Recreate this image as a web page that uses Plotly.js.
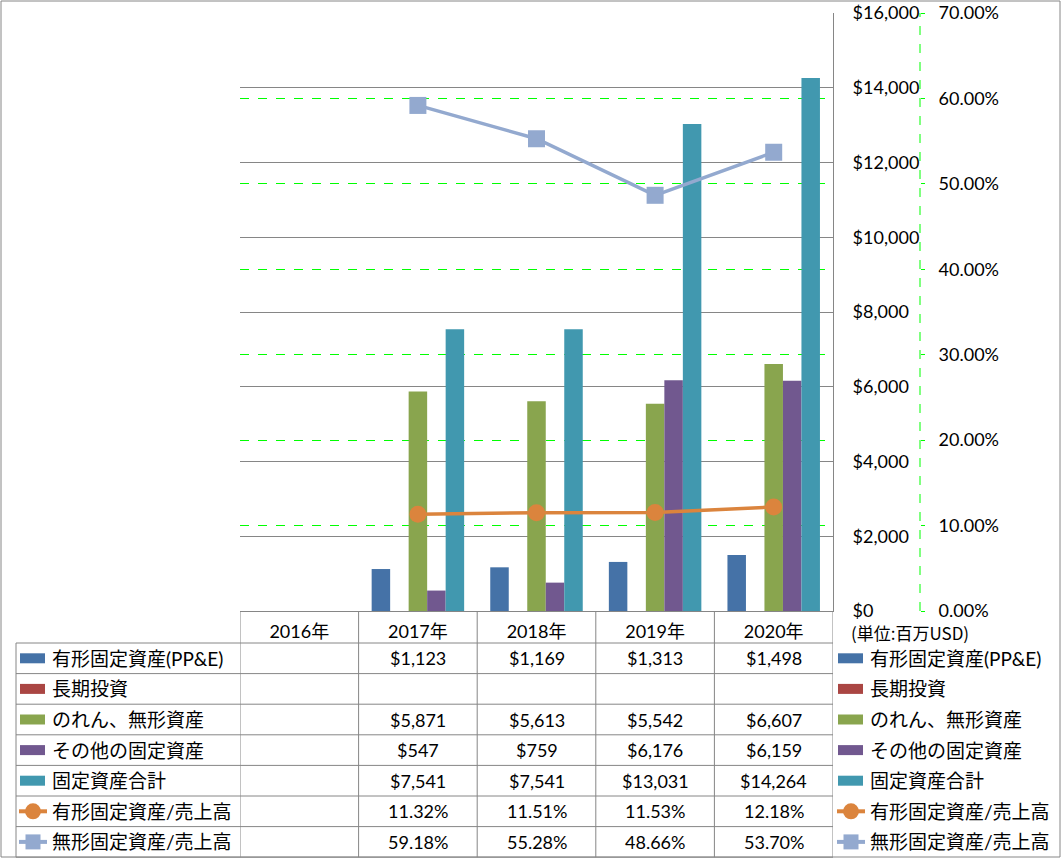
<!DOCTYPE html>
<html><head><meta charset="utf-8">
<script src="https://cdn.plot.ly/plotly-3.0.1.min.js"></script>
<style>html,body{margin:0;padding:0;background:#fff;overflow:hidden;} #chart{width:1061px;height:858px;}</style>
</head><body><div id="chart"></div>
<script>
// ---- data ----
const years = ['2016年', '2017年', '2018年', '2019年', '2020年'];
const ppe = [null, 1123, 1169, 1313, 1498];
const ltInvest = [null, null, null, null, null];
const goodwill = [null, 5871, 5613, 5542, 6607];
const otherFixed = [null, 547, 759, 6176, 6159];
const totalFixed = [null, 7541, 7541, 13031, 14264];
const ppeRatio = [null, 0.1132, 0.1151, 0.1153, 0.1218];
const intangRatio = [null, 0.5918, 0.5528, 0.4866, 0.5370];
const seriesNames = ['有形固定資産(PP&E)', '長期投資', 'のれん、無形資産', 'その他の固定資産', '固定資産合計', '有形固定資産/売上高', '無形固定資産/売上高'];
const colors = ['#4572A7', '#AA4643', '#89A54E', '#71588F', '#4198AF', '#DB843D', '#93A9CF'];
const unitLabel = '(単位:百万USD)';

// ---- geometry ----
const W = 1061, H = 858, L = 240, R = 20, T = 13, B = 247;
const PW = W - L - R, PH = H - T - B;
const X = px => (px - L) / PW;
const Y = py => (H - B - py) / PH;
const plotRight = 833, axis2X = 920;
const rowTop = 643, rowH = 30.6;
const rowC = r => rowTop + rowH * (r + 0.5);

const gridGray = '#868686';
const numFont = {family: 'Lato, "Noto Sans CJK JP", sans-serif', size: 18, color: '#000'};
const jpFont = {family: 'Lato, "Noto Sans CJK JP", sans-serif', size: 19, color: '#000'};

const barSeries = [ppe, ltInvest, goodwill, otherFixed, totalFixed];
const lineSeries = [ppeRatio, intangRatio];

const traces = [];
barSeries.forEach((vals, i) => {
  traces.push({type: 'bar', x: years, y: vals, name: seriesNames[i],
    marker: {color: colors[i]}, showlegend: false, hoverinfo: 'skip'});
});
const lineSymbols = ['circle', 'square'];
const lineSizes = [17, 17];
lineSeries.forEach((vals, j) => {
  const i = 5 + j;
  traces.push({type: 'scatter', mode: 'lines+markers', x: years, y: vals, yaxis: 'y2',
    name: seriesNames[i], line: {color: colors[i], width: 3.5},
    marker: {symbol: lineSymbols[j], size: lineSizes[j], color: colors[i]},
    showlegend: false, hoverinfo: 'skip'});
});

const shapes = [];
const annotations = [];
// outer border
shapes.push({type: 'rect', xref: 'paper', yref: 'paper', x0: X(1), x1: X(1060), y0: Y(857), y1: Y(1),
  line: {color: gridGray, width: 1}, fillcolor: 'rgba(0,0,0,0)', layer: 'below'});
// secondary axis dashed line
shapes.push({type: 'line', xref: 'paper', yref: 'paper', x0: X(axis2X), x1: X(axis2X), y0: 0, y1: 1,
  line: {color: '#00FF00', width: 1, dash: 'dash'}});
// table column lines (category boundaries)
for (let i = 0; i <= years.length; i++) {
  shapes.push({type: 'line', xref: 'x', yref: 'paper', x0: i - 0.5, x1: i - 0.5, y0: Y(H - B), y1: Y(rowTop + rowH * 7),
    line: {color: gridGray, width: 1}});
}
// table row lines
for (let k = 0; k <= 7; k++) {
  const py = rowTop + rowH * k;
  shapes.push({type: 'line', xref: 'paper', yref: 'paper', x0: X(16), x1: X(plotRight), y0: Y(py), y1: Y(py),
    line: {color: gridGray, width: 1}});
}
shapes.push({type: 'line', xref: 'paper', yref: 'paper', x0: X(16), x1: X(16), y0: Y(rowTop), y1: Y(rowTop + rowH * 7),
  line: {color: gridGray, width: 1}});

// legend keys + labels (left table and right side)
function legendKey(r, xl) {
  const c = rowC(r);
  const col = colors[r];
  if (r < 5) {
    shapes.push({type: 'rect', xref: 'paper', yref: 'paper', x0: X(xl), x1: X(xl + 25), y0: Y(c + 5), y1: Y(c - 5),
      line: {width: 0}, fillcolor: col});
  } else {
    shapes.push({type: 'line', xref: 'paper', yref: 'paper', x0: X(xl - 1), x1: X(xl + 27), y0: Y(c), y1: Y(c),
      line: {color: col, width: 4}});
    const cx = xl + 13, s = r === 5 ? 8 : 7.5;
    shapes.push({type: r === 5 ? 'circle' : 'rect', xref: 'paper', yref: 'paper', x0: X(cx - s), x1: X(cx + s), y0: Y(c + s), y1: Y(c - s),
      line: {width: 0}, fillcolor: col});
  }
}
seriesNames.forEach((nm, r) => {
  legendKey(r, 20);
  legendKey(r, 838);
  annotations.push({xref: 'paper', yref: 'paper', x: X(50), y: Y(rowC(r)), text: nm, showarrow: false,
    xanchor: 'left', yanchor: 'middle', font: jpFont});
  annotations.push({xref: 'paper', yref: 'paper', x: X(868), y: Y(rowC(r)), text: nm, showarrow: false,
    xanchor: 'left', yanchor: 'middle', font: jpFont});
});

// table values
const fmtMoney = v => '$' + v.toLocaleString('en-US');
const fmtPct = v => (v * 100).toFixed(2) + '%';
const allSeries = barSeries.concat(lineSeries);
allSeries.forEach((vals, r) => {
  vals.forEach((v, i) => {
    if (v === null) return;
    annotations.push({xref: 'x', yref: 'paper', x: years[i], y: Y(rowC(r)),
      text: r < 5 ? fmtMoney(v) : fmtPct(v), showarrow: false, xanchor: 'center', yanchor: 'middle', font: numFont});
  });
});
annotations.push({xref: 'paper', yref: 'paper', x: X(849), y: Y(632), text: unitLabel, showarrow: false,
  xanchor: 'left', yanchor: 'middle', font: {family: '"Noto Sans CJK JP", sans-serif', size: 17, color: '#000'}});

const layout = {
  width: W, height: H,
  margin: {l: L, r: R, t: T, b: B, pad: 0},
  paper_bgcolor: '#fff', plot_bgcolor: 'rgba(0,0,0,0)',
  barmode: 'group', bargap: 0.22, bargroupgap: 0,
  showlegend: false,
  xaxis: {type: 'category', categoryarray: years, range: [-0.5, years.length - 0.5], domain: [0, X(plotRight)],
    showgrid: false, zeroline: false, showline: true, linecolor: gridGray, linewidth: 1,
    ticks: '', tickfont: numFont, ticklabelstandoff: 4, fixedrange: true},
  yaxis: {side: 'right', range: [0, 16000], dtick: 2000, tickprefix: '$', tickformat: ',d',
    showgrid: true, gridcolor: gridGray, gridwidth: 1, zeroline: false,
    showline: true, linecolor: gridGray, linewidth: 1, ticks: '', ticklabelstandoff: 15, tickfont: numFont},
  yaxis2: {overlaying: 'y', side: 'right', anchor: 'free', position: X(axis2X), range: [0, 0.7], dtick: 0.1,
    tickformat: '.2%', showgrid: true, gridcolor: '#00FF00', griddash: 'dash', gridwidth: 1, zeroline: false,
    showline: false, ticks: 'outside', ticklen: 4, tickcolor: '#00FF00', ticklabelstandoff: 10, tickfont: numFont},
  shapes: shapes, annotations: annotations
};
Plotly.newPlot('chart', traces, layout, {displayModeBar: false, staticPlot: true});
</script></body></html>
